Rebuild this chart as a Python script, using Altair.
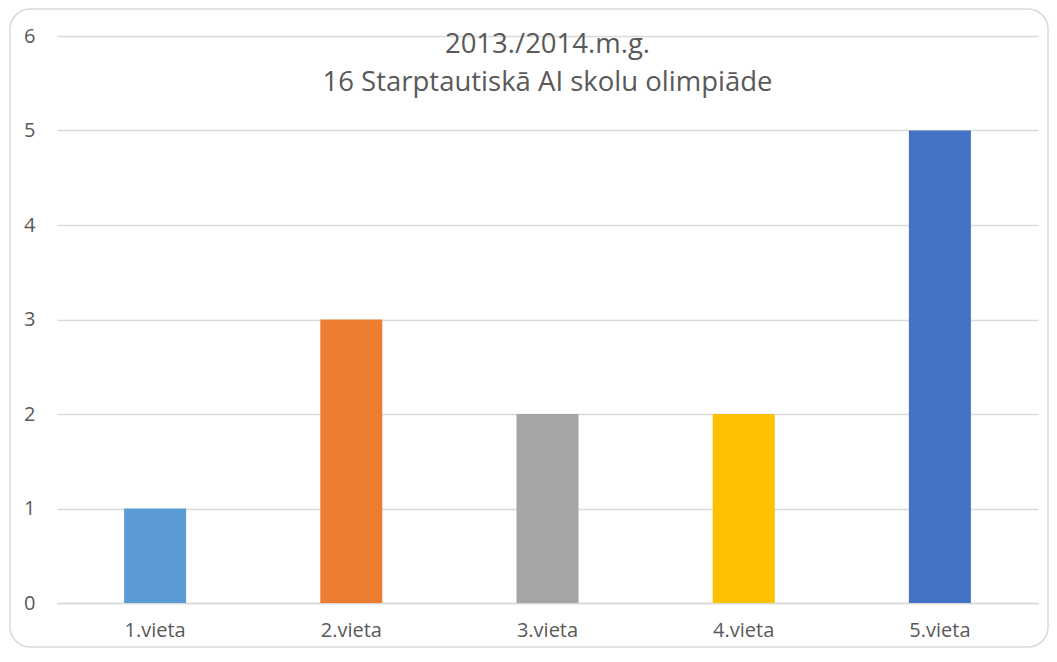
import altair as alt
import pandas as pd

categories = ["1.vieta", "2.vieta", "3.vieta", "4.vieta", "5.vieta"]
values = [1, 3, 2, 2, 5]
colors = ["#5B9BD5", "#ED7D31", "#A5A5A5", "#FFC000", "#4472C4"]
title_lines = ["2013./2014.m.g.", "16 Starptautiskā AI skolu olimpiāde"]

df = pd.DataFrame({"vieta": categories, "skaits": values})

W, H = 981, 567
FONT = "Open Sans"
GREY = "#595959"

border = alt.Chart(pd.DataFrame({"k": [0]})).mark_rect(
    fill="transparent", stroke="#D9D9D9", strokeWidth=1.5, cornerRadius=20, clip=False
).encode(
    x=alt.value(-47), x2=alt.value(W + 10), y=alt.value(-27), y2=alt.value(H + 44)
)

bars = alt.Chart(df).mark_bar(clip=False).encode(
    x=alt.X("vieta:N", sort=categories,
            scale=alt.Scale(paddingInner=0.684, paddingOuter=0.342),
            axis=alt.Axis(title=None, labelAngle=0, labelFont=FONT, labelFontSize=20,
                          labelColor=GREY, labelPadding=17, ticks=False,
                          domain=True, domainColor="#D9D9D9", domainWidth=1.5, grid=False)),
    y=alt.Y("skaits:Q", scale=alt.Scale(domain=[0, 6]),
            axis=alt.Axis(title=None, values=[0, 1, 2, 3, 4, 5, 6], labelFont=FONT,
                          labelFontSize=20, labelColor=GREY, labelPadding=22, ticks=False,
                          domain=False, grid=True, gridColor="#D9D9D9", gridWidth=1.5)),
    color=alt.Color("vieta:N", sort=categories,
                    scale=alt.Scale(domain=categories, range=colors), legend=None),
)

chart = alt.layer(border, bars).properties(
    width=W, height=H,
    padding={"left": 49, "top": 28, "right": 11, "bottom": 45},
    autosize=alt.AutoSizeParams(type="none"),
    title=alt.TitleParams(text=title_lines, font=FONT, fontSize=27.5, fontWeight="normal",
                          color=GREY, lineHeight=38, anchor="middle", baseline="top",
                          offset=-88),
).configure_view(stroke=None)

chart.save("out.html", embed_options={"renderer": "svg", "actions": False})
